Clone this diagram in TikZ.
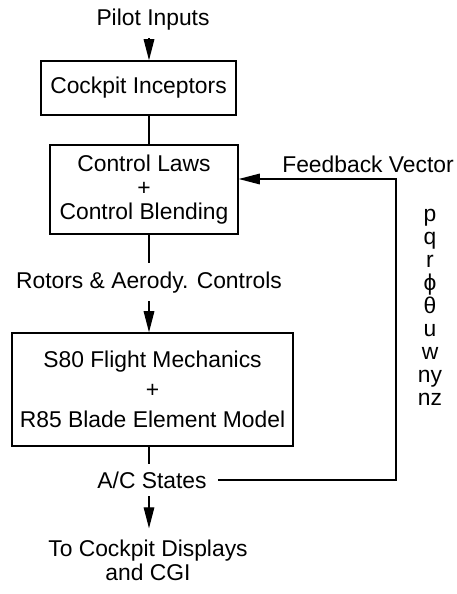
\documentclass[tikz,border=0pt]{standalone}
\usepackage{fontspec}
\setmainfont{Liberation Sans}
\usepackage{tikz}
\usetikzlibrary{arrows.meta}

\begin{document}
\begin{tikzpicture}[x=0.02cm,y=-0.02cm,>={Triangle[length=12pt,width=6pt]},
  line width=.8pt,
  every node/.style={font=\fontsize{13}{15}\selectfont,inner sep=0pt},
  blockbox/.style={draw,line width=.8pt,align=center},
  sig/.style={align=center}]
  \useasboundingbox (0,0) rectangle (456,594);

  % main chain
  \node[sig] (pilot) at (153,20) {Pilot Inputs};
  \node[blockbox,minimum width=3.9cm,minimum height=1.08cm] (incep)
    at (138.5,88) {Cockpit Inceptors};
  \node[blockbox,minimum width=3.76cm,minimum height=1.78cm] (laws)
    at (144,189.5) {Control Laws\\[-1.5pt]+\\[-1.5pt]Control Blending};
  \node[sig] (rotors) at (149,283) {Rotors \& Aerody. Controls};
  \node[blockbox,minimum width=5.62cm,minimum height=2.26cm] (fm)
    at (152.5,389.5) {S80 Flight Mechanics\\[2pt]+\\[2pt]R85 Blade Element Model};
  \node[sig] (states) at (152,480) {A/C States};
  \node[sig] (displays) at (148,560)
    {To Cockpit Displays\\[-1.3pt]and CGI};

  \coordinate (axis) at (149,0);
  \draw[->] ([yshift=-4pt]pilot.south -| axis) -- (incep.north -| axis);
  \draw (incep.south -| axis) -- (laws.north -| axis);
  \draw (laws.south -| axis) -- ([yshift=5pt]rotors.north -| axis);
  \draw[->] ([yshift=-4pt]rotors.south -| axis) -- (fm.north -| axis);
  \draw (fm.south -| axis) -- ([yshift=4pt]states.north -| axis);
  \draw[->] ([yshift=-4pt]states.south -| axis) -- ([yshift=6pt]displays.north -| axis);

  % feedback loop
  \coordinate (fbin) at (396,480);
  \coordinate (fbout) at (396,179);
  \draw[->] ([xshift=6pt]states.east) -- (fbin) -- (fbout) -- (fbout -| laws.east);
  \node[sig] (fbtitle) at (368,164) {Feedback Vector};
  \node[align=center,font=\fontsize{13}{13.1}\selectfont] (fbvars) at (430,307.5)
    {p\\q\\r\\ϕ\\θ\\u\\w\\ny\\nz};
\end{tikzpicture}
\end{document}
